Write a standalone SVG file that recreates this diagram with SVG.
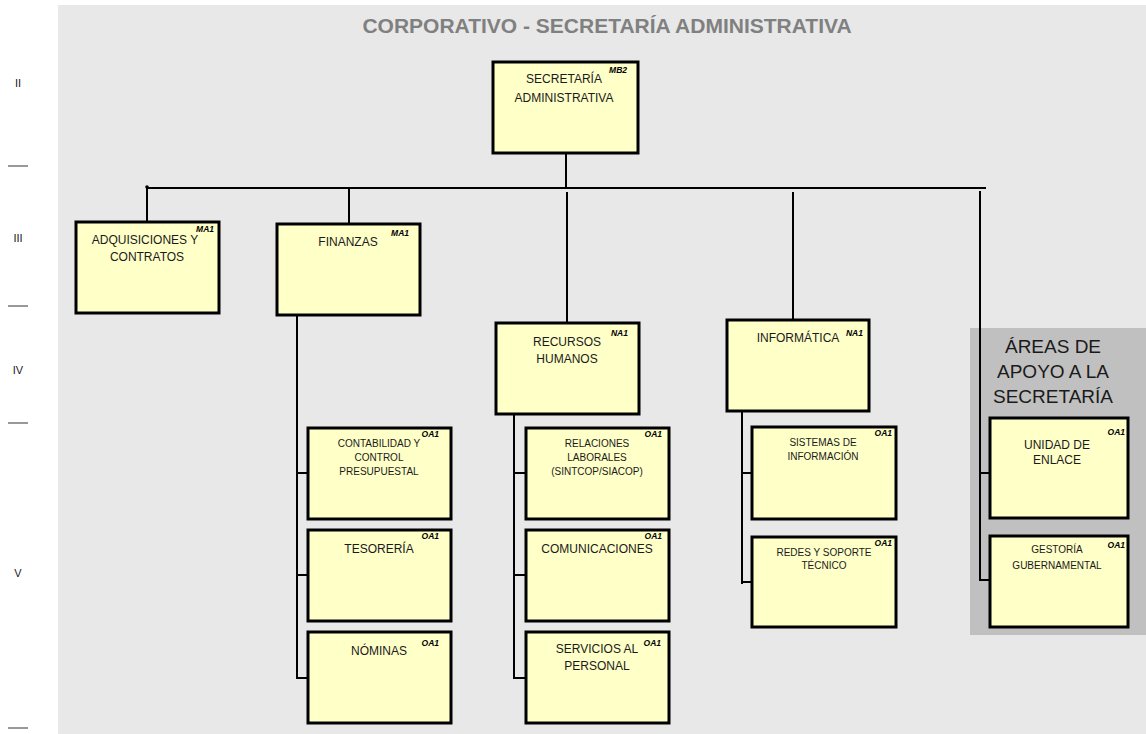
<svg xmlns="http://www.w3.org/2000/svg" width="1146" height="734" viewBox="0 0 1146 734">
<style>
.box{fill:#ffffc8;stroke:#000;stroke-width:3}
.t{font-family:"Liberation Sans",Arial,sans-serif;font-size:12px;fill:#1a1a1a;text-anchor:middle}
.s{font-family:"Liberation Sans",Arial,sans-serif;font-size:10px;fill:#1a1a1a;text-anchor:middle}
.c{font-family:"Liberation Sans",Arial,sans-serif;font-size:8.5px;font-weight:bold;font-style:italic;fill:#000;text-anchor:end}
.lv{font-family:"Liberation Sans",Arial,sans-serif;font-size:11px;fill:#222;text-anchor:middle}
.a{font-family:"Liberation Sans",Arial,sans-serif;font-size:19px;fill:#1a1a1a;text-anchor:middle}
.con line{stroke:#000;stroke-width:2}
.tick line{stroke:#333;stroke-width:1}
</style>
<rect x="0" y="0" width="1146" height="734" fill="#fff"/>
<rect x="58" y="5" width="1088" height="729" fill="#e8e8e8"/>
<text x="607" y="33" font-family="Liberation Sans,Arial,sans-serif" font-size="21" font-weight="bold" fill="#808080" text-anchor="middle">CORPORATIVO - SECRETARÍA ADMINISTRATIVA</text>
<g id="levels">
<g class="tick"><line x1="8" y1="166" x2="28" y2="166"/><line x1="8" y1="306" x2="28" y2="306"/><line x1="8" y1="423" x2="28" y2="423"/><line x1="8" y1="728" x2="28" y2="728"/></g>
<text class="lv" x="18" y="87">II</text>
<text class="lv" x="18" y="242">III</text>
<text class="lv" x="18" y="374">IV</text>
<text class="lv" x="18" y="577">V</text>
</g>
<g id="areas-panel">
<rect x="970" y="328" width="176" height="307" fill="#c0c0c0"/>
<text class="a" x="1053" y="353">ÁREAS DE</text>
<text class="a" x="1053" y="378">APOYO A LA</text>
<text class="a" x="1053" y="403">SECRETARÍA</text>
</g>
<g id="connectors" class="con">
<line x1="566" y1="153" x2="566" y2="188"/>
<line x1="147" y1="188" x2="986" y2="188"/>
<circle cx="147" cy="187" r="1.8" fill="#000"/>
<line x1="147" y1="187" x2="147" y2="222"/>
<line x1="349" y1="188" x2="349" y2="224"/>
<line x1="567" y1="192" x2="567" y2="323"/>
<line x1="793" y1="192" x2="793" y2="320"/>
<line x1="980" y1="191" x2="980" y2="580"/>
<line x1="979" y1="473" x2="990" y2="473"/>
<line x1="979" y1="580" x2="990" y2="580"/>
<line x1="297" y1="315" x2="297" y2="679"/>
<line x1="296" y1="473" x2="308" y2="473"/>
<line x1="296" y1="575" x2="308" y2="575"/>
<line x1="296" y1="678" x2="308" y2="678"/>
<line x1="514" y1="414" x2="514" y2="679"/>
<line x1="513" y1="473" x2="526" y2="473"/>
<line x1="513" y1="575" x2="526" y2="575"/>
<line x1="513" y1="678" x2="526" y2="678"/>
<line x1="742" y1="411" x2="742" y2="584"/>
<line x1="741" y1="473" x2="752" y2="473"/>
<line x1="741" y1="582" x2="752" y2="582"/>
</g>
<g id="secretaria">
<rect class="box" x="493" y="62" width="145" height="91"/>
<text class="t" x="564" y="83">SECRETARÍA</text>
<text class="t" x="564" y="102">ADMINISTRATIVA</text>
<text class="c" x="627" y="73">MB2</text>
</g>
<g id="adquisiciones">
<rect class="box" x="76" y="222" width="143" height="91"/>
<text class="t" x="145" y="244" font-size="11.4">ADQUISICIONES Y</text>
<text class="t" x="147" y="261">CONTRATOS</text>
<text class="c" x="214" y="232">MA1</text>
</g>
<g id="finanzas">
<rect class="box" x="277" y="224" width="143" height="91"/>
<text class="t" x="348" y="246">FINANZAS</text>
<text class="c" x="409" y="236">MA1</text>
</g>
<g id="recursos-humanos">
<rect class="box" x="496" y="323" width="143" height="91"/>
<text class="t" x="567" y="346">RECURSOS</text>
<text class="t" x="567" y="363">HUMANOS</text>
<text class="c" x="628" y="336">NA1</text>
</g>
<g id="informatica">
<rect class="box" x="727" y="320" width="142" height="91"/>
<text class="t" x="798" y="342">INFORMÁTICA</text>
<text class="c" x="863" y="336">NA1</text>
</g>
<g id="contabilidad">
<rect class="box" x="308" y="428" width="143" height="91"/>
<text class="s" x="379" y="447">CONTABILIDAD Y</text>
<text class="s" x="379" y="461">CONTROL</text>
<text class="s" x="379" y="475">PRESUPUESTAL</text>
<text class="c" x="439" y="437">OA1</text>
</g>
<g id="tesoreria">
<rect class="box" x="308" y="530" width="143" height="91"/>
<text class="t" x="379" y="553">TESORERÍA</text>
<text class="c" x="439" y="539">OA1</text>
</g>
<g id="nominas">
<rect class="box" x="308" y="632" width="143" height="91"/>
<text class="t" x="379" y="655">NÓMINAS</text>
<text class="c" x="439" y="646">OA1</text>
</g>
<g id="relaciones-laborales">
<rect class="box" x="526" y="428" width="143" height="91"/>
<text class="s" x="597" y="447">RELACIONES</text>
<text class="s" x="597" y="461">LABORALES</text>
<text class="s" x="597" y="475">(SINTCOP/SIACOP)</text>
<text class="c" x="662" y="437">OA1</text>
</g>
<g id="comunicaciones">
<rect class="box" x="526" y="530" width="143" height="91"/>
<text class="t" x="597" y="553" font-size="11.3">COMUNICACIONES</text>
<text class="c" x="662" y="539">OA1</text>
</g>
<g id="servicios-personal">
<rect class="box" x="526" y="632" width="143" height="91"/>
<text class="t" x="597" y="653">SERVICIOS AL</text>
<text class="t" x="597" y="670">PERSONAL</text>
<text class="c" x="661" y="646">OA1</text>
</g>
<g id="sistemas">
<rect class="box" x="752" y="427" width="144" height="92"/>
<text class="s" x="823" y="446">SISTEMAS DE</text>
<text class="s" x="823" y="460">INFORMACIÓN</text>
<text class="c" x="892" y="436">OA1</text>
</g>
<g id="redes">
<rect class="box" x="752" y="537" width="144" height="90"/>
<text class="s" x="824" y="556">REDES Y SOPORTE</text>
<text class="s" x="824" y="569">TÉCNICO</text>
<text class="c" x="892" y="546">OA1</text>
</g>
<g id="unidad-enlace">
<rect class="box" x="990" y="418" width="138" height="100"/>
<text class="t" x="1057" y="449">UNIDAD DE</text>
<text class="t" x="1057" y="464">ENLACE</text>
<text class="c" x="1125" y="435">OA1</text>
</g>
<g id="gestoria">
<rect class="box" x="990" y="536" width="138" height="91"/>
<text class="s" x="1057" y="553">GESTORÍA</text>
<text class="s" x="1057" y="569">GUBERNAMENTAL</text>
<text class="c" x="1125" y="548">OA1</text>
</g>
</svg>
